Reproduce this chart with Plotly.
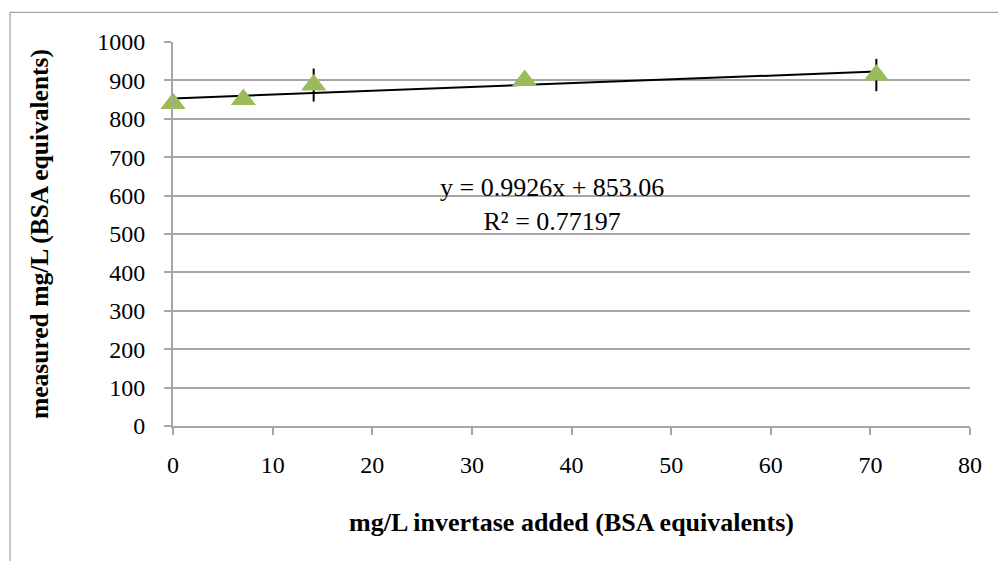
import plotly.graph_objects as go

# Data
x_added = [0, 7.06, 14.12, 35.3, 70.6]
y_measured = [840, 850, 888, 900, 914]
y_err = [None, None, 43, None, 42]

slope = 0.9926
intercept = 853.06
r_squared = 0.77197

x_ticks = [0, 10, 20, 30, 40, 50, 60, 70, 80]
y_ticks = [0, 100, 200, 300, 400, 500, 600, 700, 800, 900, 1000]

FONT = "Liberation Serif, Times New Roman, serif"
GRID = "#a6a6a6"

trend_x = [min(x_added), max(x_added)]
trend_y = [slope * v + intercept for v in trend_x]

fig = go.Figure()
fig.add_trace(go.Scatter(
    x=trend_x, y=trend_y, mode="lines",
    line=dict(color="black", width=2), showlegend=False, hoverinfo="skip",
    cliponaxis=False))
fig.add_trace(go.Scatter(
    x=x_added, y=y_measured, mode="markers",
    marker=dict(symbol="triangle-up", size=22, color="#9bbb59"),
    error_y=dict(type="data", array=y_err, visible=True, color="black",
                 thickness=2, width=0),
    cliponaxis=False, showlegend=False))

fig.add_annotation(
    x=38.0, y=578, xref="x", yref="y",
    text=f"y = {slope}x + {intercept}<br>R² = {r_squared}",
    showarrow=False, align="center",
    font=dict(family=FONT, size=26, color="black"))

fig.add_shape(type="rect", xref="paper", yref="paper",
              x0=-0.2045, y0=-0.6, x1=1.2, y1=1.0773,
              line=dict(color="#8c8c8c", width=1), layer="below")

fig.update_layout(
    width=998, height=561,
    margin=dict(l=173, r=28, t=42, b=135),
    paper_bgcolor="white", plot_bgcolor="white",
    font=dict(family=FONT, size=24, color="black"),
    xaxis=dict(
        range=[0, 80], tickvals=x_ticks, ticktext=[str(v) for v in x_ticks],
        showgrid=False, zeroline=False,
        showline=True, linecolor=GRID, linewidth=2,
        ticks="outside", ticklen=7, tickcolor=GRID, tickwidth=2,
        ticklabelstandoff=9,
        tickfont=dict(family=FONT, size=24),
        title=dict(text="<b>mg/L invertase added (BSA equivalents)</b>",
                   font=dict(family=FONT, size=26), standoff=36),
    ),
    yaxis=dict(
        range=[0, 1000], tickvals=y_ticks, ticktext=[str(v) for v in y_ticks],
        showgrid=True, gridcolor=GRID, gridwidth=2, zeroline=False,
        showline=True, linecolor=GRID, linewidth=2,
        ticks="outside", ticklen=7, tickcolor=GRID, tickwidth=2,
        ticklabelstandoff=14,
        tickfont=dict(family=FONT, size=24),
        title=dict(text="<b>measured mg/L (BSA equivalents)</b>",
                   font=dict(family=FONT, size=25.5), standoff=41),
    ),
)

fig.write_html("out.html")
